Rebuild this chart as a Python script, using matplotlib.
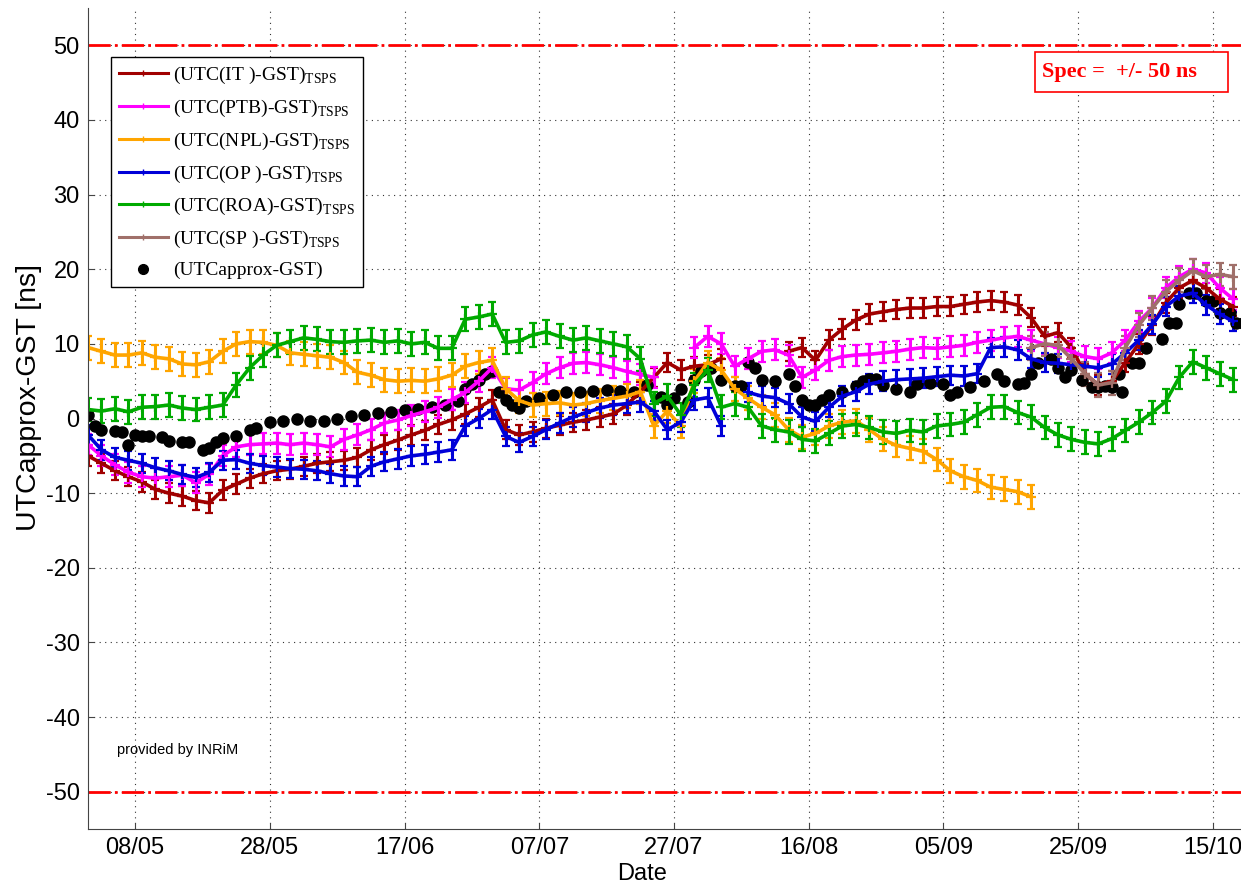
import numpy as np
import pandas as pd
import matplotlib
matplotlib.use("Agg")
import matplotlib.pyplot as plt
import matplotlib.dates as mdates
from matplotlib.lines import Line2D
from matplotlib.patches import Rectangle

plt.rcParams['font.family'] = ['Liberation Sans', 'DejaVu Sans']
plt.rcParams['mathtext.fontset'] = 'custom'
plt.rcParams['mathtext.rm'] = 'Liberation Serif'
plt.rcParams['axes.unicode_minus'] = False

nan = np.nan

# samples every 2 days, 01/05 .. 18/10
dates = pd.date_range('2014-05-01', '2014-10-18', freq='2D')

utc_it = [-5.0, -6.0, -7.0, -7.8, -8.5, -9.5, -10.0, -10.4, -11.0, -11.3,
          -9.6, -8.8, -8.0, -7.4, -7.0, -6.8, -6.4, -6.0, -5.8, -5.6,
          -5.2, -4.2, -3.5, -2.9, -2.2, -1.6, -0.8, -0.2, 0.6, 1.5,
          2.5, -1.5, -2.2, -1.8, -1.3, -0.9, -0.5, -0.2, 0.2, 0.6,
          1.8, 3.6, 5.5, 7.5, 6.5, 7.0, 7.2, 8.0, nan, nan,
          nan, nan, 9.0, 9.5, 7.8, 10.5, 12.0, 13.2, 14.0, 14.3,
          14.6, 14.8, 14.8, 15.0, 15.0, 15.3, 15.6, 15.8, 15.6, 15.2,
          13.5, 11.0, 11.5, 9.5, 6.0, 4.5, 5.0, 7.5, 10.0, 12.5,
          15.5, 17.5, 18.5, 17.5, 16.0, 15.0]

utc_ptb = [-3.5, -5.0, -6.2, -7.2, -7.8, -8.0, -7.8, -7.6, -8.6, -7.5,
           -5.0, -3.8, -3.5, -3.4, -3.3, -3.5, -3.3, -3.5, -3.8, -2.8,
           -2.2, -1.5, -0.6, -0.2, 0.4, 0.9, 1.5, 2.5, 3.5, 5.0,
           6.8, 4.0, 3.8, 4.8, 6.0, 6.8, 7.4, 7.5, 7.2, 6.8,
           6.3, 5.9, 5.5, nan, nan, 9.5, 11.0, 10.0, 7.0, 8.0,
           9.0, 9.2, 8.5, 5.5, 6.5, 7.8, 8.3, 8.5, 8.6, 8.8,
           9.0, 9.3, 9.5, 9.4, 9.6, 9.8, 10.2, 10.5, 10.8, 11.0,
           10.5, 10.0, 9.5, 9.0, 8.3, 8.0, 8.8, 10.5, 13.0, 14.8,
           17.5, 19.0, 20.0, 19.5, 17.5, 16.0]

utc_npl = [9.5, 9.0, 8.5, 8.5, 8.8, 8.2, 8.0, 7.3, 7.2, 7.6,
           9.0, 10.0, 10.3, 10.2, 9.8, 8.8, 8.6, 8.4, 8.2, 7.5,
           6.2, 5.8, 5.2, 5.0, 5.1, 5.0, 5.3, 5.8, 7.0, 7.5,
           7.8, 4.0, 2.4, 1.8, 2.0, 2.1, 1.8, 2.0, 2.4, 2.7,
           3.0, 3.6, -1.0, 1.0, -1.0, 5.0, 7.5, 6.5, 4.0, 2.7,
           1.5, 0.5, -1.5, -2.5, -2.0, -1.0, -0.5, -0.3, -1.5, -2.8,
           -3.6, -4.0, -4.4, -5.5, -7.0, -7.8, -8.3, -9.2, -9.5, -9.8,
           -10.5] + [nan] * 15

utc_op = [-2.2, -4.2, -5.2, -5.6, -6.0, -6.6, -7.0, -7.5, -7.9, -7.2,
          -5.6, -5.5, -6.0, -6.3, -6.5, -6.7, -6.8, -7.0, -7.4, -7.7,
          -7.8, -6.4, -5.8, -5.4, -5.0, -4.8, -4.5, -4.2, -1.0, 0.0,
          1.2, -2.4, -3.2, -2.4, -1.5, -0.6, 0.2, 0.8, 1.4, 1.8,
          2.0, 2.2, 1.0, -1.5, -0.5, 2.5, 2.8, -1.0, nan, 3.5,
          3.0, 2.8, 2.0, 0.2, -0.4, 1.5, 3.0, 3.6, 4.6, 5.0,
          5.2, 5.3, 5.4, 5.6, 5.8, 5.7, 6.0, 9.5, 9.6, 9.2,
          8.0, 7.5, 7.4, 7.2, 7.0, 6.8, 7.3, 8.8, 10.5, 12.6,
          15.0, 16.4, 16.8, 15.2, 14.0, 13.0]

utc_roa = [1.2, 1.0, 1.3, 0.9, 1.5, 1.6, 1.8, 1.4, 1.2, 1.5,
           1.8, 4.5, 6.8, 8.5, 9.8, 10.3, 10.8, 10.6, 10.3, 10.2,
           10.4, 10.5, 10.2, 10.4, 10.0, 10.2, 9.4, 9.4, 13.3, 13.6,
           14.0, 10.2, 10.4, 11.2, 11.6, 11.0, 10.5, 10.8, 10.4, 10.0,
           9.6, 8.0, 2.0, 3.0, 0.5, 4.5, 6.5, 1.5, 2.0, 1.5,
           -1.0, -1.5, -1.8, -2.8, -3.0, -2.0, -1.0, -0.8, -1.2, -1.8,
           -2.0, -1.6, -1.8, -1.0, -0.8, -0.5, 0.5, 1.5, 1.6, 0.8,
           0.2, -1.2, -2.2, -2.8, -3.2, -3.4, -2.7, -1.6, -0.5, 0.8,
           2.3, 5.5, 7.6, 6.8, 6.0, 5.2]

utc_sp = [nan] * 70 + [9.5, 10.0, 9.8, 8.0, 6.0, 4.5, 4.8, 9.5, 12.5, 14.8,
                       17.0, 18.5, 19.8, 19.0, 19.3, 19.0]

# typical scatter of each series [ns]
scatter = [1.3, 1.4, 1.6, 1.3, 1.6, 1.6]

# UTCapprox-GST points: day after 01/05 and value
approx_day = [0, 1, 2, 4, 5, 6, 7, 8, 9, 11, 12, 14, 15, 17, 18, 19, 20, 22, 24, 25,
              27, 29, 31, 33, 35, 37, 39, 41, 43, 45, 47, 49, 51, 53, 55, 56, 57, 58, 59, 60,
              61, 62, 63, 64, 65, 67, 69, 71, 73, 75, 77, 79, 81, 83, 85, 86, 87, 88, 89, 90,
              91, 92.5, 94, 96, 97, 98, 99, 100, 102, 104, 105, 106, 107, 108, 109, 110, 112, 114, 115, 116,
              117, 118, 120, 122, 123, 125, 127, 128, 129, 131, 133, 135, 136, 138, 139, 140, 141, 143, 144, 145,
              146, 147.5, 149, 150, 151, 152, 153, 153.5, 155, 156, 157, 159.5, 160.5, 161.5, 162, 163.5, 164.5, 166, 167, 168,
              169.5, 170.5, 171.5]
approx_val = [0.5, -1.0, -1.6, -1.7, -1.8, -3.5, -2.2, -2.3, -2.4, -2.5, -3.0, -3.1, -3.2, -4.2, -3.9, -3.1, -2.6, -2.4, -1.6, -1.3,
              -0.5, -0.3, -0.1, -0.3, -0.4, 0.0, 0.4, 0.5, 0.8, 0.9, 1.1, 1.3, 1.6, 1.8, 2.4, 3.9, 4.6, 5.2, 5.9, 6.3,
              3.6, 2.5, 1.8, 1.4, 2.3, 2.8, 3.2, 3.5, 3.6, 3.7, 3.8, 3.7, 3.6, 4.5, 2.9, 1.8, 2.7, 3.9, 2.2, 5.2,
              6.3, 6.8, 5.2, 4.3, 4.3, 7.6, 6.7, 5.2, 5.0, 5.9, 4.3, 2.5, 1.8, 1.8, 2.5, 3.2, 3.6, 4.3, 5.0, 5.3,
              5.3, 4.5, 4.0, 3.6, 4.6, 4.7, 4.6, 3.2, 3.6, 4.2, 5.0, 5.9, 5.0, 4.6, 4.8, 5.9, 7.4, 8.0, 6.8, 5.6,
              6.5, 5.2, 4.2, 4.2, 4.3, 4.2, 5.9, 3.5, 7.4, 7.5, 9.4, 10.7, 12.8, 12.8, 15.4, 16.8, 16.8, 15.7, 15.7, 14.1,
              14.1, 12.8, 12.8]
approx_dates = pd.Timestamp('2014-05-01') + pd.to_timedelta(approx_day, unit='D')

labels = ['(UTC(IT )-GST)', '(UTC(PTB)-GST)', '(UTC(NPL)-GST)',
          '(UTC(OP )-GST)', '(UTC(ROA)-GST)', '(UTC(SP )-GST)']
colors = ['#a00000', '#ff00ff', '#ffa500', '#0000d8', '#00aa00', '#a0706a']
series = [utc_it, utc_ptb, utc_npl, utc_op, utc_roa, utc_sp]

fig = plt.figure(figsize=(12.41, 8.86), dpi=100)
ax = fig.add_axes([88 / 1241, 57 / 886, 1160 / 1241, 821 / 886])

handles = []
for vals, col, sp, lab in zip(series, colors, scatter, labels):
    ax.errorbar(dates, vals, yerr=sp, fmt='-+', color=col, lw=2.6, ms=7, mew=1.6,
                elinewidth=2.2, capsize=3, capthick=2)
    handles.append(Line2D([], [], color=col, lw=2.2, marker='+', ms=5,
                          label=lab + r'$_{\rm TSPS}$'))

ax.plot(approx_dates, approx_val, 'o', color='k', ms=8)
handles.append(Line2D([], [], ls='none', marker='o', color='k', ms=7,
                      label='(UTCapprox-GST)'))

for lim in (50, -50):
    ax.axhline(lim, color='r', lw=2, dashes=(8, 1.5, 1, 1.5))

ax.set_xlim(pd.Timestamp('2014-05-01'), pd.Timestamp('2014-10-20 05:00'))
ax.set_ylim(-55, 55)
ax.set_yticks(range(-50, 51, 10))
ax.set_xticks(pd.date_range('2014-05-08', periods=9, freq='20D'))
ax.xaxis.set_major_formatter(mdates.DateFormatter('%d/%m'))
ax.grid(True, ls=(0, (1, 4)), color='#333333', lw=0.8)
ax.spines['top'].set_visible(False)
ax.spines['right'].set_visible(False)
for s in ('left', 'bottom'):
    ax.spines[s].set_color('#444444')
ax.tick_params(direction='in', length=4, color='#444444', labelsize=17, pad=6)

ax.set_xlabel('Date', fontsize=17)
ax.set_ylabel('UTCapprox-GST [ns]', fontsize=20.5)
ax.xaxis.set_label_coords((642 - 88) / 1160, -0.042)
ax.yaxis.set_label_coords(-0.04, 0.525)

leg = ax.legend(handles=handles, loc='upper left', bbox_to_anchor=(0.02, 0.94),
                borderaxespad=0, fancybox=False, edgecolor='k', framealpha=1,
                prop={'family': 'Liberation Serif', 'size': 14},
                handlelength=2.5, handletextpad=0.3, labelspacing=0.6, borderpad=0.4)
leg.get_frame().set_linewidth(1.0)

ax.add_patch(Rectangle((0.816, 0.898), 0.167, 0.048, transform=ax.transAxes,
                       fill=True, facecolor='white', edgecolor='red', lw=1.2, zorder=5))
ax.text(0.822, 0.922, 'Spec =  +/- 50 ns', transform=ax.transAxes, color='red',
        fontsize=16, fontweight='bold', family='Liberation Serif', va='center', zorder=6)

ax.text(0.025, 0.096, 'provided by INRiM', transform=ax.transAxes, fontsize=10.5, va='center')

plt.savefig('out.png', dpi=100)
